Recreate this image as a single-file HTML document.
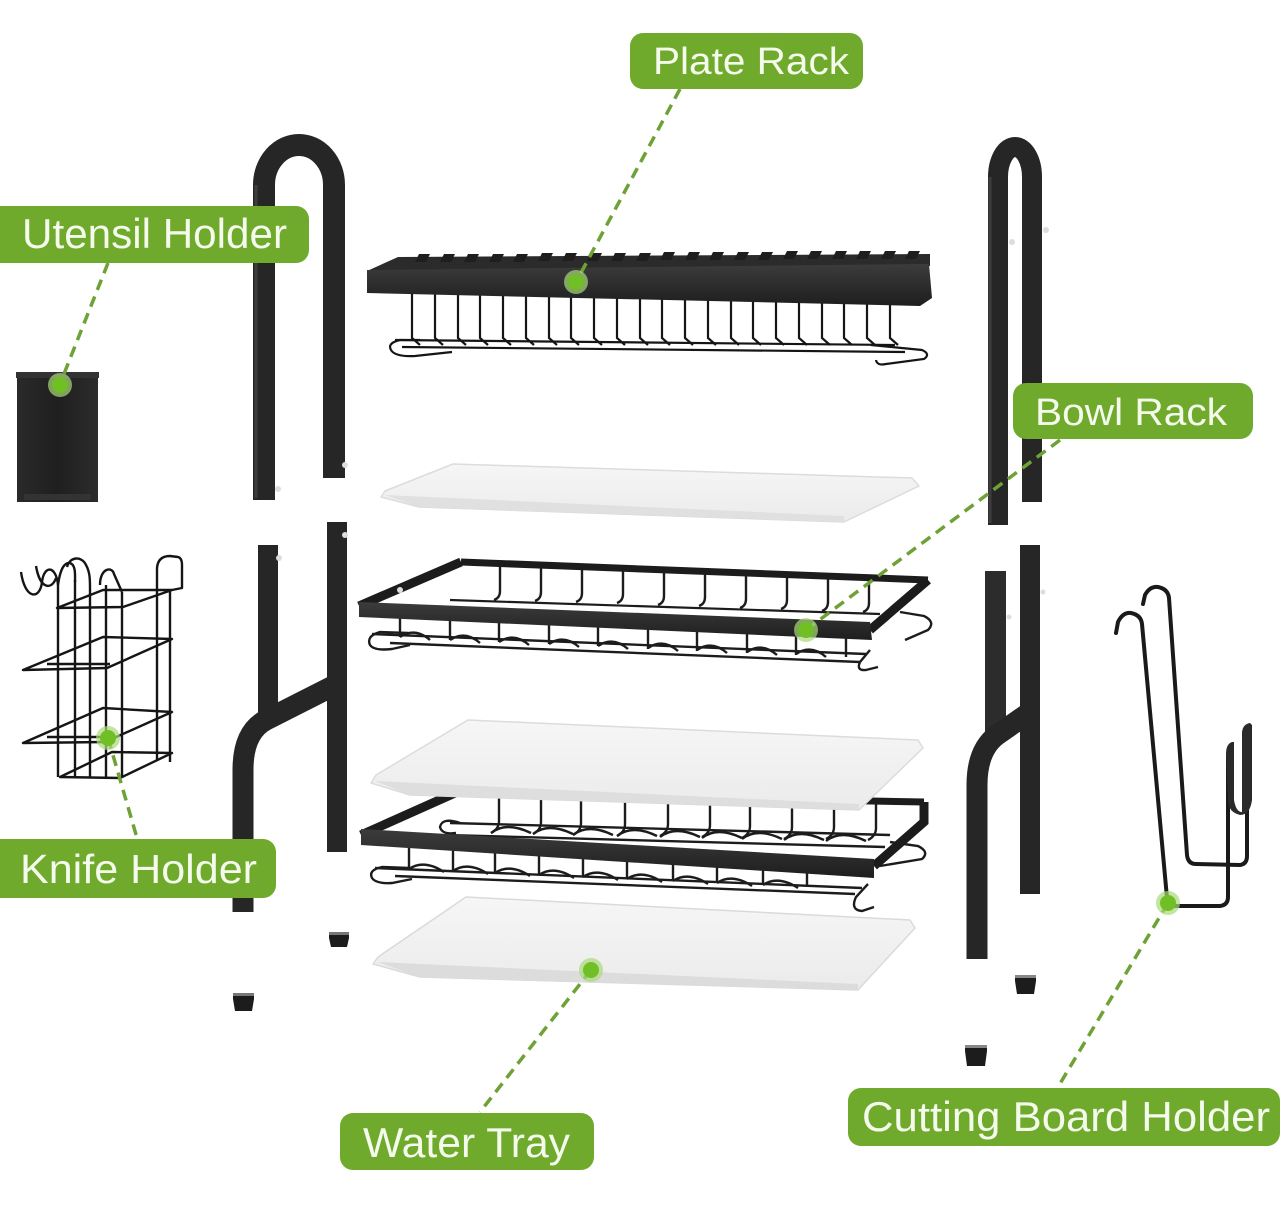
<!DOCTYPE html>
<html><head><meta charset="utf-8">
<style>
html,body{margin:0;padding:0;background:#fff;}
body{width:1284px;height:1220px;overflow:hidden;}
svg{display:block;}
.lbl{font-family:"Liberation Sans",sans-serif;fill:#f4faec;}
</style></head>
<body>
<svg width="1284" height="1220" viewBox="0 0 1284 1220" xmlns="http://www.w3.org/2000/svg">
<defs>
  <linearGradient id="band" x1="0" y1="0" x2="0" y2="1">
    <stop offset="0" stop-color="#3c3c3c"/><stop offset="1" stop-color="#1e1e1e"/>
  </linearGradient>
  <linearGradient id="tray" x1="0" y1="0" x2="0" y2="1">
    <stop offset="0" stop-color="#f6f6f6"/><stop offset="1" stop-color="#ebebeb"/>
  </linearGradient>
  <linearGradient id="cup" x1="0" y1="0" x2="1" y2="0">
    <stop offset="0" stop-color="#2a2a2a"/><stop offset="0.5" stop-color="#1f1f1f"/><stop offset="1" stop-color="#2c2c2c"/>
  </linearGradient>
</defs>

<!-- ============ Upper left U frame ============ -->
<path d="M264,500 V185 A35,40 0 0 1 334,185 V478" stroke="#262626" stroke-width="22" fill="none"/>
<path d="M256,498 V185" stroke="#3d3d3d" stroke-width="3" fill="none"/>
<circle cx="278" cy="489" r="3" fill="#ddd"/>
<circle cx="345" cy="465" r="3" fill="#ddd"/>

<!-- ============ Upper right U frame ============ -->
<path d="M998,525 V177 A17,30 0 0 1 1032,177 V502" stroke="#262626" stroke-width="20" fill="none"/>
<path d="M990,523 V177" stroke="#3d3d3d" stroke-width="3" fill="none"/>
<circle cx="1012" cy="242" r="3" fill="#ddd"/>
<circle cx="1046" cy="230" r="3" fill="#ddd"/>

<!-- ============ Utensil holder cup ============ -->
<rect x="17" y="375" width="81" height="127" fill="url(#cup)"/>
<rect x="16" y="372" width="83" height="6" fill="#333"/>
<rect x="24" y="494" width="67" height="6" fill="#333"/>

<!-- ============ Knife holder wire basket ============ -->
<g stroke="#151515" stroke-width="2.4" fill="none" stroke-linejoin="round">
  <polygon points="57,608 123,607 172,590 103,590"/>
  <polygon points="23,670 107,668 172,639 103,637"/>
  <line x1="47" y1="664" x2="110" y2="664"/>
  <polygon points="23,743 105,742 172,712 103,708"/>
  <line x1="47" y1="737" x2="110" y2="737"/>
  <polygon points="60,777 120,778 172,753 112,752"/>
  <path d="M58,585 V777 M75,580 V778 M90,588 V777 M106,585 V778 M122,592 V778 M157,597 V761 M170,590 V762"/>
  <path d="M21,572 C25,600 40,600 42,582 C44,565 56,565 58,585"/>
  <path d="M36,566 C40,590 52,590 56,578"/>
  <path d="M58,585 C60,570 64,562 70,563 C76,565 75,575 75,582"/>
  <path d="M67,567 C70,556 82,556 86,565 C90,572 90,580 90,588"/>
  <path d="M100,585 C100,568 112,566 114,574 L122,592"/>
  <path d="M157,597 L157,568 Q158,556 170,556 L178,557 Q182,558 182,565 L182,588 L172,590"/>
</g>

<!-- ============ Left lower H frame ============ -->
<rect x="258" y="545" width="20" height="172" fill="#262626"/>
<rect x="327" y="522" width="20" height="330" fill="#262626"/>
<path d="M337,684 L266,720 Q243,732 243,770 L243,912" stroke="#262626" stroke-width="21" fill="none"/>
<circle cx="279" cy="558" r="3" fill="#ddd"/>
<circle cx="345" cy="535" r="3" fill="#ddd"/>
<path d="M329,933 h20 v5 l-2,9 h-16 l-2,-9 z" fill="#1c1c1c"/>
<rect x="329" y="932" width="20" height="3" fill="#777"/>
<path d="M233,994 h21 v5 l-2,12 h-17 l-2,-12 z" fill="#1c1c1c"/>
<rect x="233" y="993" width="21" height="3" fill="#777"/>

<!-- ============ Right lower frame ============ -->
<rect x="1020" y="545" width="20" height="349" fill="#262626"/>
<rect x="985" y="571" width="21" height="170" fill="#2c2c2c"/>
<path d="M1030,712 L997,735 Q977,750 977,785 L977,959" stroke="#262626" stroke-width="21" fill="none"/>
<circle cx="1043" cy="592" r="2.5" fill="#ddd"/>
<circle cx="1009" cy="617" r="2.5" fill="#ddd"/>
<path d="M1015,977 h21 v4 l-2,13 h-17 l-2,-13 z" fill="#1c1c1c"/>
<rect x="1015" y="975" width="21" height="3" fill="#888"/>
<path d="M965,1047 h22 v4 l-2,15 h-18 l-2,-15 z" fill="#1c1c1c"/>
<rect x="965" y="1045" width="22" height="3" fill="#888"/>

<!-- ============ Cutting board holder ============ -->
<g stroke="#1a1a1a" stroke-width="4" fill="none" stroke-linejoin="round" stroke-linecap="round">
  <path d="M1143,604 L1145,595 Q1150,586 1158,587 Q1168,589 1169,598 L1187,855 Q1188,864 1196,864 L1240,865 Q1247,864 1247,856 L1247,730"/>
  <path d="M1116,633 L1118,622 Q1123,612 1131,613 Q1141,615 1142,624 L1167,898 Q1168,906 1176,906 L1220,906 Q1228,905 1228,897 L1228,755"/>
</g>
<path d="M1226,754 Q1226,744 1232,742 L1234,742 L1234,800 Q1236,812 1242,812 L1242,732 Q1243,724 1250,723 L1252,725 L1252,800 Q1250,815 1240,815 Q1228,812 1228,800 Z" fill="#2a2a2a"/>

<!-- ============ Plate rack ============ -->
<polygon points="398,257 930,254 930,266 367,271" fill="#2b2b2b"/>
<path fill="#1e1e1e" d="M415,262 l4,-8 h11 l-4,8z M440,262 l4,-8 h11 l-4,8z M464,262 l4,-8 h11 l-4,8z M489,262 l4,-8 h11 l-4,8z M513,262 l4,-8 h11 l-4,8z M538,261 l4,-8 h11 l-4,8z M562,261 l4,-8 h11 l-4,8z M587,261 l4,-8 h11 l-4,8z M611,261 l4,-8 h11 l-4,8z M636,261 l4,-8 h11 l-4,8z M660,260 l4,-8 h11 l-4,8z M685,260 l4,-8 h11 l-4,8z M709,260 l4,-8 h11 l-4,8z M734,260 l4,-8 h11 l-4,8z M758,260 l4,-8 h11 l-4,8z M783,259 l4,-8 h11 l-4,8z M807,259 l4,-8 h11 l-4,8z M832,259 l4,-8 h11 l-4,8z M856,259 l4,-8 h11 l-4,8z M881,259 l4,-8 h11 l-4,8z M905,259 l4,-8 h11 l-4,8z"/>
<g stroke="#151515" stroke-width="2.2" fill="none">
  <path d="M412,294V338l8,7 M435,294V338l8,7 M458,294V338l8,7 M480,294V338l8,7 M503,294V338l8,7 M526,294V338l8,7 M549,294V338l8,7 M571,294V338l8,7 M594,294V338l8,7 M617,294V338l8,7 M640,294V338l8,7 M662,294V338l8,7 M685,294V338l8,7 M708,294V338l8,7 M731,294V338l8,7 M753,294V338l8,7 M776,294V338l8,7 M799,294V338l8,7 M822,294V338l8,7 M844,294V338l8,7 M867,294V338l8,7 M890,294V338l8,7"/>
  <path d="M395,340 L895,345 M402,347 L905,352"/>
  <path d="M420,340 L400,340 Q387,343 391,350 Q395,357 415,356 L452,352"/>
  <path d="M871,345 L922,350 Q931,354 924,359 L886,364 Q877,366 876,360"/>
</g>
<polygon points="367,270 929,264 932,298 920,306 367,293" fill="url(#band)"/>

<!-- ============ Tray 1 ============ -->
<polygon points="453,464 912,478 919,486 844,522 419,507 381,497 385,491" fill="url(#tray)" stroke="#dcdcdc" stroke-width="1.5" stroke-linejoin="round"/>
<polygon points="385,495 844,516 844,522 419,507" fill="#e0e0e0"/>

<!-- ============ Bowl rack ============ -->
<g stroke="#1c1c1c" fill="none">
  <path d="M461,562 L928,580" stroke-width="7"/>
  <path d="M461,562 L359,606" stroke-width="9"/>
  <path d="M928,580 L870,630" stroke-width="9"/>
  <path d="M450,600 L880,614" stroke-width="2.2"/>
  <g stroke-width="2.4">
    <path d="M500,565 v26 q0,7 -6,9 M541,566 v26 q0,7 -6,9 M582,567 v26 q0,7 -6,9 M623,568 v26 q0,7 -6,9 M664,570 v26 q0,7 -6,9 M705,571 v26 q0,7 -6,9 M746,573 v26 q0,7 -6,9 M787,574 v26 q0,7 -6,9 M828,576 v26 q0,7 -6,9 M869,577 v26 q0,7 -6,9"/>
    <path d="M400,617 v20 M450,619 v21 M499,621 v21 M549,623 v21 M598,625 v21 M648,628 v21 M697,630 v21 M747,632 v21 M796,634 v21 M846,636 v21"/>
    <path d="M372,634 L866,654 M390,643 L860,662"/>
    <path d="M400,637 q15,-10 30,3 M450,640 q15,-10 30,3 M499,642 q15,-10 30,3 M549,644 q15,-10 30,3 M598,646 q15,-10 30,3 M648,648 q15,-10 30,3 M697,650 q15,-10 30,3 M747,652 q15,-10 30,3 M796,654 q15,-10 30,3"/>
    <path d="M408,633 L380,632 Q366,636 370,645 Q374,651 392,649 L410,645"/>
    <path d="M900,612 L924,616 Q936,622 928,630 L905,640"/>
    <path d="M870,650 L860,662 Q856,671 866,670 L878,667"/>
  </g>
</g>
<polygon points="359,602 870,622 872,640 359,617" fill="url(#band)"/>
<circle cx="400" cy="590" r="3" fill="#ddd"/>

<!-- ============ Bottom rack ============ -->
<g stroke="#1c1c1c" fill="none">
  <path d="M455,793 L924,802" stroke-width="7"/>
  <path d="M455,793 L361,835" stroke-width="9"/>
  <path d="M924,802 V822 L874,866" stroke-width="9"/>
  <g stroke-width="2.4">
    <path d="M499,796 v25 q0,8 -8,12 M541,797 v25 q0,8 -8,12 M581,798 v25 q0,8 -8,12 M625,799 v25 q0,8 -8,12 M668,799 v25 q0,8 -8,12 M710,800 v25 q0,8 -8,12 M750,801 v25 q0,8 -8,12 M792,802 v25 q0,8 -8,12 M834,802 v25 q0,8 -8,12 M876,803 v25 q0,8 -8,12"/>
    <path d="M450,823 L890,835 M445,835 L885,847"/>
    <path d="M460,823 q-18,-6 -20,4 q2,8 16,6 M491,833 q15,-12 40,0 M533,834 q15,-12 40,0 M573,835 q15,-12 40,0 M617,836 q15,-12 40,0 M660,837 q15,-12 40,0 M702,838 q15,-12 40,0 M742,839 q15,-12 40,0 M784,840 q15,-12 40,0 M826,841 q15,-12 40,0"/>
    <path d="M409,847 v22 M453,849 v22 M495,851 v22 M539,853 v22 M583,855 v22 M627,857 v22 M673,859 v22 M717,861 v22 M763,863 v22 M807,865 v22"/>
    <path d="M375,868 L862,888 M395,876 L855,894"/>
    <path d="M409,869 q15,-10 35,3 M453,871 q15,-10 35,3 M495,873 q15,-10 35,3 M539,875 q15,-10 35,3 M583,877 q15,-10 35,3 M627,879 q15,-10 35,3 M673,881 q15,-10 35,3 M717,883 q15,-10 35,3 M763,885 q15,-10 35,3"/>
    <path d="M409,868 L382,867 Q368,870 372,878 Q376,884 392,883 L412,879"/>
    <path d="M890,842 L918,846 Q930,852 922,859 L880,866"/>
    <path d="M868,884 L856,897 Q850,910 862,911 L874,907"/>
  </g>
</g>
<polygon points="361,829 874,859 874,878 361,845" fill="url(#band)"/>

<!-- ============ Tray 2 ============ -->
<polygon points="468,720 918,740 923,748 859,810 410,795 371,783 376,775" fill="url(#tray)" stroke="#dcdcdc" stroke-width="1.5" stroke-linejoin="round"/>
<polygon points="375,781 859,804 859,810 410,795" fill="#dedede"/>

<!-- ============ Tray 3 ============ -->
<polygon points="466,897 910,920 915,928 858,990 420,977 373,964 378,957" fill="url(#tray)" stroke="#dadada" stroke-width="1.5" stroke-linejoin="round"/>
<polygon points="377,962 858,984 858,990 420,977" fill="#dcdcdc"/>

<!-- ============ Connectors ============ -->
<g stroke="#6ea236" stroke-width="3.5" stroke-dasharray="11 7" fill="none">
  <line x1="680" y1="89" x2="576" y2="282"/>
  <line x1="108" y1="263" x2="60" y2="384"/>
  <line x1="1060" y1="440" x2="806" y2="630"/>
  <line x1="108" y1="738" x2="137" y2="838"/>
  <line x1="591" y1="970" x2="480" y2="1112"/>
  <line x1="1168" y1="903" x2="1058" y2="1087"/>
</g>
<g>
  <circle cx="576" cy="282" r="12" fill="#a9d97a" opacity="0.7"/><circle cx="576" cy="282" r="8" fill="#6fbf25"/>
  <circle cx="60" cy="385" r="12" fill="#a9d97a" opacity="0.7"/><circle cx="60" cy="385" r="8" fill="#6fbf25"/>
  <circle cx="806" cy="630" r="12" fill="#a9d97a" opacity="0.7"/><circle cx="806" cy="630" r="8" fill="#6fbf25"/>
  <circle cx="108" cy="738" r="12" fill="#a9d97a" opacity="0.7"/><circle cx="108" cy="738" r="8" fill="#6fbf25"/>
  <circle cx="591" cy="970" r="12" fill="#a9d97a" opacity="0.7"/><circle cx="591" cy="970" r="8" fill="#6fbf25"/>
  <circle cx="1168" cy="903" r="12" fill="#a9d97a" opacity="0.7"/><circle cx="1168" cy="903" r="8" fill="#6fbf25"/>
</g>

<!-- ============ Labels ============ -->
<g fill="#70aa2c">
  <rect x="630" y="33" width="233" height="56" rx="13"/>
  <rect x="-14" y="206" width="323" height="57" rx="13"/>
  <rect x="1013" y="383" width="240" height="56" rx="13"/>
  <rect x="-14" y="839" width="290" height="59" rx="13"/>
  <rect x="340" y="1113" width="254" height="57" rx="13"/>
  <rect x="848" y="1088" width="432" height="58" rx="13"/>
</g>
<text class="lbl" x="653" y="74" font-size="38" textLength="196" lengthAdjust="spacingAndGlyphs">Plate Rack</text>
<text class="lbl" x="22" y="248" font-size="42" textLength="265" lengthAdjust="spacingAndGlyphs">Utensil Holder</text>
<text class="lbl" x="1035" y="425" font-size="38" textLength="192" lengthAdjust="spacingAndGlyphs">Bowl Rack</text>
<text class="lbl" x="20" y="883" font-size="41" textLength="237" lengthAdjust="spacingAndGlyphs">Knife Holder</text>
<text class="lbl" x="363" y="1157" font-size="42" textLength="207" lengthAdjust="spacingAndGlyphs">Water Tray</text>
<text class="lbl" x="862" y="1131" font-size="42" textLength="408" lengthAdjust="spacingAndGlyphs">Cutting Board Holder</text>
</svg>
</body></html>
